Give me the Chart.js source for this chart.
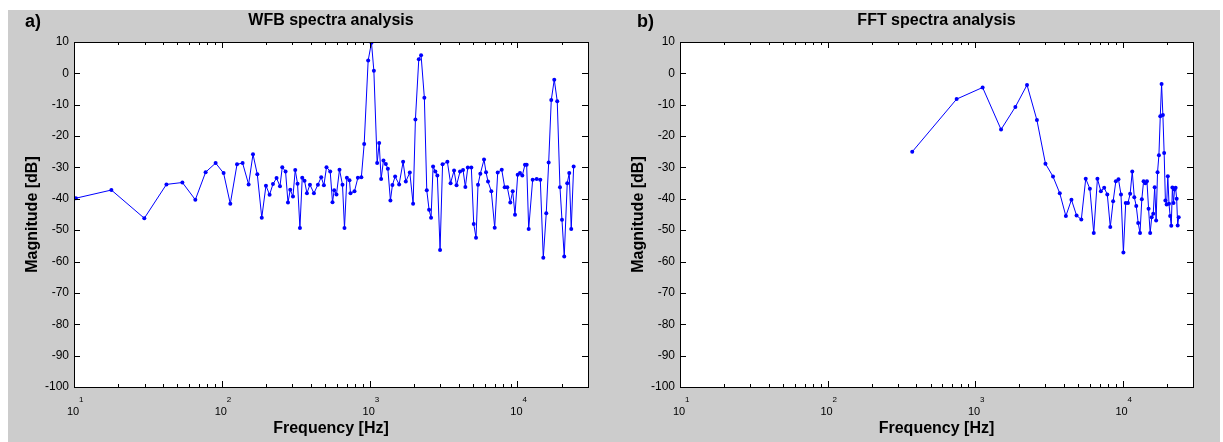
<!DOCTYPE html>
<html lang="en">
<head>
<meta charset="UTF-8">
<title>WFB / FFT spectra analysis</title>
<script src="https://cdn.jsdelivr.net/npm/chart.js"></script>
<style>
  body { margin: 0; background: #fff; }
  .figure { position: absolute; left: 8px; top: 10px; width: 1212px; height: 432px; background: #cccccc; }
  .panel { position: absolute; top: 0; width: 604px; height: 432px; }
  #panelA { left: 0; }
  #panelB { left: 608px; }
</style>
</head>
<body>
<div class="figure">
  <div class="panel" id="panelA"><canvas id="wfbChart"></canvas></div>
  <div class="panel" id="panelB"><canvas id="fftChart"></canvas></div>
</div>
<script>
// values
const wfbFreq = [10.3, 17.9, 29.9, 42.2, 54.1, 66.2, 77.7, 90.8, 102.8, 114.1,
  126.7, 138.2, 151.8, 162.5, 173.8, 186.3, 198.9, 210.4, 221.8, 234.6,
  247.4, 256.4, 269.9, 280.2, 290.4, 302.8, 313.8, 325.3, 337.6, 349.9,
  362.6, 376.4, 394.5, 419.8, 446.7, 470.2, 490.4, 510.7, 541, 560.7,
  575.7, 596.6, 625.2, 655.1, 675.8, 701.5, 730.5, 741.9, 789.6, 832.6,
  879, 918.3, 977.2, 1029, 1068, 1124, 1160, 1196, 1240, 1287,
  1328, 1382, 1426, 1487, 1583, 1684, 1756, 1869, 1968, 2040,
  2150, 2228, 2345, 2435, 2524, 2603, 2686, 2783, 2871, 2995,
  3114, 3356, 3527, 3724, 3871, 4088, 4283, 4440, 4616, 4874,
  5059, 5244, 5410, 5607, 5939, 6127, 6320, 6653, 7015, 7350,
  7825, 8196, 8535, 8943, 9283, 9623, 10035, 10400, 10780, 11240,
  11540, 11910, 12670, 13490, 14270, 14950, 15660, 16260, 16930, 17740,
  18580, 19390, 20000, 20720, 21710, 22400, 23110, 23990];
const wfbMag = [-39.8, -37.2, -46.2, -35.4, -34.8, -40.3, -31.5, -28.6, -31.8, -41.6,
  -29, -28.6, -35.4, -25.8, -32.2, -46, -35.8, -38.7, -35.3, -33.4,
  -36, -29.9, -31.3, -41.2, -37.1, -39.3, -30.8, -35.2, -49.3, -33.3,
  -34.2, -38.2, -35.5, -38.2, -35.5, -33.1, -35.7, -29.9, -31.3, -41.1,
  -37.3, -38.6, -30.7, -35.5, -49.3, -33.3, -34.1, -38.2, -37.6, -33.3,
  -33.1, -22.5, 4.1, 9.8, 0.8, -28.6, -22.2, -33.7, -27.8, -28.9,
  -30.4, -40.5, -35.6, -32.9, -35.4, -28.2, -34.5, -31.6, -41.6, -14.7,
  4.5, 5.8, -7.8, -37.3, -43.5, -46, -29.7, -31.3, -32.6, -56.3,
  -29, -28.2, -35, -31, -35.7, -31.3, -30.8, -36.2, -30, -30,
  -48, -52.4, -35.5, -32, -27.5, -31.5, -34.5, -37.6, -49.2, -31.6,
  -30.7, -36.3, -36.3, -41.2, -37.6, -45.1, -32.3, -31.8, -32.6, -29.1,
  -29.1, -49.6, -33.9, -33.7, -33.9, -58.8, -44.6, -28.4, -8.5, -2,
  -8.9, -36.3, -46.7, -58.4, -35, -31.8, -49.6, -29.7];

const fftFreq = [375, 750, 1125, 1500, 1875, 2250, 2625, 3000, 3375, 3750,
  4125, 4500, 4875, 5250, 5625, 6000, 6375, 6750, 7125, 7500,
  7875, 8250, 8625, 9000, 9375, 9750, 10125, 10500, 10875, 11250,
  11625, 12000, 12375, 12750, 13125, 13500, 13875, 14250, 14625, 15000,
  15375, 15750, 16125, 16500, 16875, 17250, 17625, 18000, 18375, 18750,
  19125, 19500, 19875, 20250, 20625, 21000, 21375, 21750, 22125, 22500,
  22875, 23250, 23625, 24000];
const fftMag = [-25, -8.2, -4.5, -17.9, -10.7, -3.7, -14.9, -28.8, -32.9, -38.2,
  -45.5, -40.3, -45.3, -46.6, -33.6, -36.8, -50.9, -33.6, -37.6, -36.5,
  -38.6, -49, -40.8, -34.4, -33.8, -38.6, -57.1, -41.3, -41.3, -38.4,
  -31.3, -39.5, -42.3, -47.7, -50.9, -40.1, -34.4, -35, -34.4, -43.2,
  -50.9, -45.9, -44.8, -36.3, -46.9, -31.5, -26.1, -13.7, -3.4, -13.3,
  -25.4, -40.5, -41.8, -32.8, -41.6, -45.5, -48.6, -36.4, -41.3, -37,
  -36.5, -40, -48.5, -45.9];

const xDecades = [10, 100, 1000, 10000];
const xMin = 10, xMax = 30000;
const yMin = -100, yMax = 10, yStep = 10;

const FONT = '"Liberation Sans", Arial, Helvetica, sans-serif';

// MATLAB-like box: white area, inward ticks on all sides, labels with exponents
const matlabAxes = {
  id: 'matlabAxes',
  beforeDraw(chart) {
    const { ctx, chartArea: a } = chart;
    ctx.save();
    ctx.fillStyle = '#fff';
    ctx.fillRect(a.left, a.top, a.right - a.left, a.bottom - a.top);
    ctx.restore();
  },
  afterDraw(chart, args, opts) {
    const { ctx, chartArea: a, scales: { x, y } } = chart;
    ctx.save();
    ctx.strokeStyle = '#000';
    ctx.lineWidth = 1;
    ctx.beginPath();
    for (let v = yMin; v <= yMax; v += yStep) {
      const py = Math.round(y.getPixelForValue(v)) + 0.5;
      ctx.moveTo(a.left, py); ctx.lineTo(a.left + 6, py);
      ctx.moveTo(a.right, py); ctx.lineTo(a.right - 6, py);
    }
    xDecades.forEach(d => {
      for (let m = 1; m <= 9; m++) {
        const f = d * m;
        if (f > xMax) break;
        const len = m === 1 ? 6 : 3;
        const px = Math.round(x.getPixelForValue(f)) + 0.5;
        ctx.moveTo(px, a.bottom); ctx.lineTo(px, a.bottom - len);
        ctx.moveTo(px, a.top); ctx.lineTo(px, a.top + len);
      }
    });
    ctx.stroke();
    ctx.strokeRect(Math.round(a.left) + 0.5, Math.round(a.top) + 0.5,
      Math.round(a.right - a.left), Math.round(a.bottom - a.top));

    ctx.fillStyle = '#000';
    // x tick labels 10^k
    xDecades.forEach(d => {
      const px = x.getPixelForValue(d);
      ctx.font = '11px ' + FONT;
      ctx.textAlign = 'center';
      ctx.textBaseline = 'alphabetic';
      ctx.fillText('10', px - 1, a.bottom + 28);
      ctx.font = '8px ' + FONT;
      ctx.textAlign = 'left';
      ctx.fillText(String(Math.round(Math.log10(d))), px + 5, a.bottom + 15);
    });

    const cx = (a.left + a.right) / 2;
    ctx.font = 'bold 16px ' + FONT;
    ctx.textAlign = 'center';
    ctx.fillText(opts.title, cx, 15);
    ctx.fillText('Frequency [Hz]', cx, 423);

    ctx.font = 'bold 18px ' + FONT;
    ctx.textAlign = 'left';
    ctx.fillText(opts.letter, opts.letterX, 17);

    ctx.save();
    ctx.translate(opts.ylabelX, (a.top + a.bottom) / 2);
    ctx.rotate(-Math.PI / 2);
    ctx.font = 'bold 16px ' + FONT;
    ctx.textAlign = 'center';
    ctx.fillText('Magnitude [dB]', 0, 0);
    ctx.restore();
    ctx.restore();
  }
};

function makeChart(id, freq, mag, cfg) {
  const points = freq.map((f, i) => ({ x: f, y: mag[i] }));
  return new Chart(document.getElementById(id), {
    type: 'line',
    data: {
      datasets: [{
        data: points,
        borderColor: '#0000ff',
        backgroundColor: '#0000ff',
        borderWidth: 1,
        pointRadius: 2,
        pointBorderWidth: 0,
        pointBackgroundColor: '#0000ff',
        tension: 0
      }]
    },
    options: {
      responsive: true,
      maintainAspectRatio: false,
      animation: false,
      layout: { padding: { top: 32, right: cfg.padRight, left: 0, bottom: 0 } },
      plugins: {
        legend: { display: false },
        tooltip: { enabled: false },
        matlabAxes: cfg
      },
      scales: {
        x: {
          type: 'logarithmic',
          min: xMin,
          max: xMax,
          ticks: { display: false },
          grid: { display: false, drawTicks: false },
          border: { display: false },
          afterFit: s => { s.height = 55; }
        },
        y: {
          min: yMin,
          max: yMax,
          ticks: { stepSize: yStep, color: '#000', padding: 5, font: { family: FONT, size: 12 } },
          grid: { display: false, drawTicks: false },
          border: { display: false },
          afterFit: s => { s.width = cfg.yWidth; }
        }
      }
    },
    plugins: [matlabAxes]
  });
}

makeChart('wfbChart', wfbFreq, wfbMag,
  { title: 'WFB spectra analysis', letter: 'a)', letterX: 17, ylabelX: 29, yWidth: 66, padRight: 24 });
makeChart('fftChart', fftFreq, fftMag,
  { title: 'FFT spectra analysis', letter: 'b)', letterX: 21, ylabelX: 27, yWidth: 64, padRight: 27 });
</script>
</body>
</html>
